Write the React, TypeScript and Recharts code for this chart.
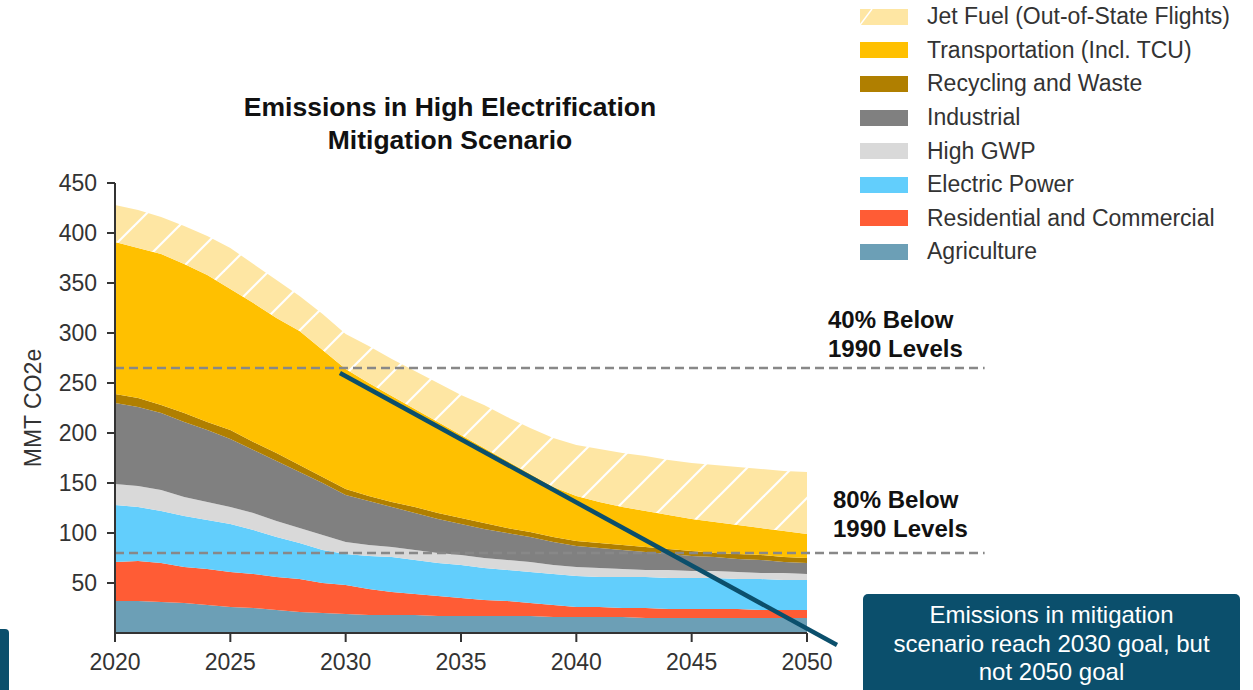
import { Area, AreaChart, ReferenceLine, XAxis, YAxis } from 'recharts'

const years = [
   2020, 2021, 2022, 2023, 2024, 2025, 2026, 2027, 2028, 2029, 2030, 2031, 2032, 2033, 2034, 2035,
   2036, 2037, 2038, 2039, 2040, 2041, 2042, 2043, 2044, 2045, 2046, 2047, 2048, 2049, 2050,
]

// MMT CO2e per sector, bottom of the stack first
const agriculture = [32, 32, 31, 30, 28, 26, 25, 23, 21, 20, 19, 18, 18, 18, 17, 17, 17, 17, 17, 16, 16, 16, 16, 15, 15, 15, 15, 15, 15, 15, 15]
const residential = [39, 40, 39, 36, 36, 35, 34, 33, 33, 30, 29, 26, 23, 21, 20, 18, 16, 15, 13, 12, 10, 10, 9, 10, 9, 9, 9, 9, 8, 8, 8]
const electric = [57, 54, 52, 51, 49, 48, 44, 40, 36, 33, 31, 33, 35, 34, 33, 33, 32, 31, 31, 31, 31, 30, 31, 31, 31, 31, 31, 30, 31, 30, 30]
const highGwp = [21, 21, 21, 19, 18, 17, 17, 16, 15, 15, 12, 11, 10, 10, 10, 10, 10, 10, 10, 9, 9, 9, 8, 7, 8, 7, 7, 7, 6, 7, 6]
const industrial = [81, 79, 77, 75, 72, 68, 63, 60, 56, 52, 47, 44, 40, 37, 34, 31, 29, 27, 25, 23, 21, 20, 19, 18, 16, 15, 14, 13, 13, 11, 11]
const recycling = [9, 9, 8, 9, 8, 9, 8, 8, 7, 6, 6, 5, 5, 6, 6, 6, 6, 5, 5, 5, 5, 5, 5, 5, 5, 5, 4, 5, 5, 5, 5]
const transportation = [152, 150, 151, 149, 147, 141, 139, 135, 134, 127, 120, 113, 106, 98, 91, 83, 75, 67, 58, 50, 45, 41, 38, 36, 34, 32, 31, 29, 27, 26, 24]
const jetFuel = [37, 38, 37, 38, 39, 41, 39, 38, 35, 36, 35, 37, 37, 38, 39, 40, 43, 44, 46, 49, 51, 53, 54, 55, 55, 56, 57, 58, 59, 60, 62]

const xTicks = [2020, 2025, 2030, 2035, 2040, 2045, 2050]
const yTicks = [50, 100, 150, 200, 250, 300, 350, 400, 450]

const goal2030 = 265
const goal2050 = 80
const goalLineEnd = 2057.7
const trendLine = [
   { x: 2029.75, y: 260 },
   { x: 2051.3, y: -12 },
]

const series = [
   { key: 'agriculture', name: 'Agriculture', values: agriculture, fill: '#6C9FB6' },
   { key: 'residential', name: 'Residential and Commercial', values: residential, fill: '#FF5C35' },
   { key: 'electric', name: 'Electric Power', values: electric, fill: '#62CEFC' },
   { key: 'highGwp', name: 'High GWP', values: highGwp, fill: '#D9D9D9' },
   { key: 'industrial', name: 'Industrial', values: industrial, fill: '#808080' },
   { key: 'recycling', name: 'Recycling and Waste', values: recycling, fill: '#B07F00' },
   { key: 'transportation', name: 'Transportation (Incl. TCU)', values: transportation, fill: '#FFC000' },
   { key: 'jetFuel', name: 'Jet Fuel (Out-of-State Flights)', values: jetFuel, fill: 'url(#jetHatch)' },
]

const data = years.map((year, i) => {
   const row: Record<string, number> = { year }
   series.forEach((s) => {
      row[s.key] = s.values[i]
   })
   return row
})

const FONT = '"Liberation Sans", Arial, sans-serif'
const TEAL = '#0B4F6C'

const ChartLegend = () => (
   <div style={{ position: 'absolute', left: 860, top: 0 }}>
      {[...series].reverse().map((s) => (
         <div key={s.key} style={{ display: 'flex', alignItems: 'center', height: 33.6 }}>
            <svg width={48} height={16} style={{ marginRight: 19, display: 'block' }}>
               {s.key === 'jetFuel' ? (
                  <>
                     <rect width={48} height={16} fill="#FEE6A3" />
                     <line x1={0} y1={16} x2={12} y2={0} stroke="#fff" strokeWidth={1.5} />
                  </>
               ) : (
                  <rect width={48} height={16} fill={s.fill} />
               )}
            </svg>
            <span style={{ fontSize: 23, color: '#333' }}>{s.name}</span>
         </div>
      ))}
   </div>
)

export default function App() {
   return (
      <div
         style={{
            position: 'fixed',
            left: 0,
            top: 0,
            width: 1253,
            height: 690,
            overflow: 'hidden',
            background: '#fff',
            fontFamily: FONT,
         }}
      >
         <AreaChart
            width={1253}
            height={690}
            data={data}
            margin={{ top: 183, right: 446, bottom: 0, left: 0 }}
         >
            <defs>
               <pattern id="jetHatch" patternUnits="userSpaceOnUse" width={45} height={45}>
                  <rect width={45} height={45} fill="#FEE6A3" />
                  <line x1={0} y1={45} x2={45} y2={0} stroke="#fff" strokeWidth={2.2} />
                  <line x1={-5} y1={5} x2={5} y2={-5} stroke="#fff" strokeWidth={2.2} />
                  <line x1={40} y1={50} x2={50} y2={40} stroke="#fff" strokeWidth={2.2} />
               </pattern>
            </defs>
            <XAxis
               dataKey="year"
               type="number"
               domain={[2020, 2050]}
               ticks={xTicks}
               interval={0}
               height={57}
               stroke="#333"
               strokeWidth={2}
               tickSize={9}
               tickMargin={12}
               tick={{ fontSize: 23, fill: '#333', fontFamily: FONT }}
               allowDataOverflow
            />
            <YAxis
               domain={[0, 450]}
               ticks={yTicks}
               interval={0}
               width={115}
               stroke="#333"
               strokeWidth={2}
               tickSize={8}
               tickMargin={10}
               tick={{ fontSize: 23, fill: '#333', fontFamily: FONT }}
               label={{
                  value: 'MMT CO2e',
                  angle: -90,
                  position: 'center',
                  dx: -25,
                  style: { fontSize: 23, fill: '#333', fontFamily: FONT },
               }}
            />
            {series.map((s) => (
               <Area
                  key={s.key}
                  dataKey={s.key}
                  name={s.name}
                  stackId="total"
                  type="linear"
                  stroke="none"
                  fill={s.fill}
                  fillOpacity={1}
                  dot={false}
                  activeDot={false}
                  isAnimationActive={false}
               />
            ))}
            <ReferenceLine
               segment={[
                  { x: 2020, y: goal2030 },
                  { x: goalLineEnd, y: goal2030 },
               ]}
               stroke="#888"
               strokeWidth={2.5}
               strokeDasharray="9 5"
               ifOverflow="visible"
            />
            <ReferenceLine
               segment={[
                  { x: 2020, y: goal2050 },
                  { x: goalLineEnd, y: goal2050 },
               ]}
               stroke="#888"
               strokeWidth={2.5}
               strokeDasharray="9 5"
               ifOverflow="visible"
            />
            <ReferenceLine
               segment={trendLine}
               stroke={TEAL}
               strokeWidth={4.5}
               ifOverflow="visible"
            />
         </AreaChart>

         <ChartLegend />

         <div
            style={{
               position: 'absolute',
               left: 200,
               top: 91,
               width: 500,
               textAlign: 'center',
               fontSize: 26.5,
               fontWeight: 'bold',
               lineHeight: '33px',
               color: '#111',
            }}
         >
            Emissions in High Electrification
            <br />
            Mitigation Scenario
         </div>

         <div
            style={{
               position: 'absolute',
               left: 828,
               top: 306,
               fontSize: 24,
               fontWeight: 'bold',
               lineHeight: '28.5px',
               color: '#111',
            }}
         >
            40% Below
            <br />
            1990 Levels
         </div>
         <div
            style={{
               position: 'absolute',
               left: 833,
               top: 486,
               fontSize: 24,
               fontWeight: 'bold',
               lineHeight: '28.5px',
               color: '#111',
            }}
         >
            80% Below
            <br />
            1990 Levels
         </div>

         <div
            style={{
               position: 'absolute',
               left: 863,
               top: 594,
               width: 377,
               height: 110,
               background: TEAL,
               borderRadius: 5,
               color: '#fff',
               fontSize: 24,
               lineHeight: '28.5px',
               textAlign: 'center',
               paddingTop: 7,
               boxSizing: 'border-box',
            }}
         >
            Emissions in mitigation
            <br />
            scenario reach 2030 goal, but
            <br />
            not 2050 goal
         </div>
         <div
            style={{
               position: 'absolute',
               left: -5,
               top: 629,
               width: 14,
               height: 80,
               background: TEAL,
               borderRadius: 4,
            }}
         />
      </div>
   )
}
